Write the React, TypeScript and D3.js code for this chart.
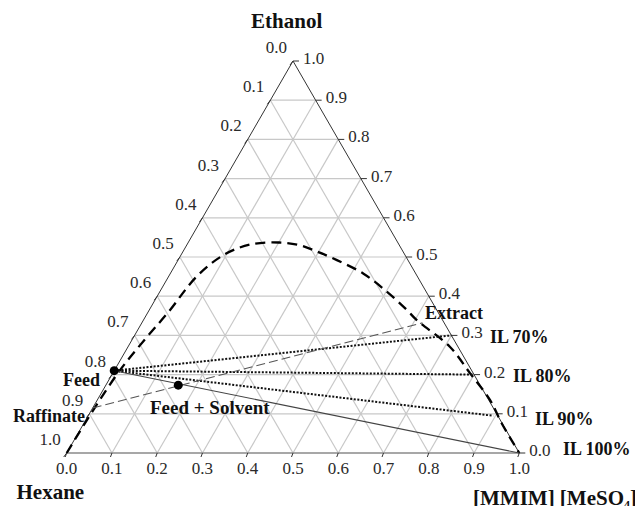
import React from "react";
import * as d3 from "d3";

// ternary coordinates: il = [MMIM][MeSO4] fraction, eth = ethanol fraction
const ticks = [0, 0.1, 0.2, 0.3, 0.4, 0.5, 0.6, 0.7, 0.8, 0.9, 1.0];
const gridLevels = [0.1, 0.2, 0.3, 0.4, 0.5, 0.6, 0.7, 0.8, 0.9];

const binodalIL = [0, 0.004, 0.012, 0.028, 0.045, 0.062, 0.094, 0.14, 0.2, 0.25, 0.296, 0.351, 0.426, 0.501, 0.569, 0.604, 0.711, 0.79, 0.868, 0.923, 1.0];
const binodalEth = [0, 0.11, 0.21, 0.29, 0.36, 0.45, 0.505, 0.532, 0.537, 0.53, 0.514, 0.492, 0.458, 0.412, 0.365, 0.339, 0.271, 0.203, 0.135, 0.076, 0];

const feed = { il: 0, eth: 0.21 };
const mixture = { il: 0.16, eth: 0.173 };
const raffinate = { il: 0, eth: 0.115 };
const extract = { il: 0.62, eth: 0.332 };
const pureIL = { il: 1.0, eth: 0 };

const solventNames = ["IL 70%", "IL 80%", "IL 90%"];
const solventIL = [0.7, 0.8, 0.895];
const solventEth = [0.3, 0.2, 0.095];

const FONT = "'Liberation Serif', 'Times New Roman', serif";

export default function App() {
  const xs = d3.scaleLinear().domain([0, 1]).range([66.7, 519.3]);
  const ys = d3.scaleLinear().domain([0, 1]).range([453, 61]);
  const px = (il: number, eth: number) => xs(il + eth / 2);
  const py = (eth: number) => ys(eth);
  const P = (p: { il: number; eth: number }) => [px(p.il, p.eth), py(p.eth)];

  const binodal = binodalIL.map((v, i) => [px(v, binodalEth[i]), py(binodalEth[i])] as [number, number]);
  const lineGen = d3.line().curve(d3.curveCatmullRom.alpha(0.5));

  const grid: JSX.Element[] = [];
  gridLevels.forEach((k, i) => {
    grid.push(<line key={"h" + i} x1={px(0, k)} y1={py(k)} x2={px(1 - k, k)} y2={py(k)} />);
    grid.push(<line key={"a" + i} x1={px(k, 0)} y1={py(0)} x2={px(k, 1 - k)} y2={py(1 - k)} />);
    grid.push(<line key={"b" + i} x1={px(1 - k, 0)} y1={py(0)} x2={px(0, 1 - k)} y2={py(1 - k)} />);
  });

  const fmt = d3.format(".1f");
  const [fx, fy] = P(feed);
  const [mx, my] = P(mixture);
  const [rx, ry] = P(raffinate);
  const [ex, ey] = P(extract);
  const [ix, iy] = P(pureIL);

  return (
    <svg width={635} height={506} style={{ position: "absolute", left: 0, top: 0, background: "#fff" }}>
      <g stroke="#c8c8c8" strokeWidth={1.2}>{grid}</g>
      {/* sides */}
      <line x1={px(0, 0)} y1={py(0)} x2={px(0, 1)} y2={py(1)} stroke="#333" strokeWidth={1} />
      <line x1={px(1, 0)} y1={py(0)} x2={px(0, 1)} y2={py(1)} stroke="#333" strokeWidth={1} />
      <line x1={px(0, 0)} y1={py(0)} x2={px(1, 0)} y2={py(0)} stroke="#8a8a8a" strokeWidth={1.5} />
      {/* ticks */}
      <g stroke="#333" strokeWidth={1}>
        {ticks.map((k, i) => (
          <line key={"lt" + i} x1={px(0, k)} y1={py(k)} x2={px(0, k) - 3} y2={py(k) + 4} />
        ))}
        {ticks.map((k, i) => (
          <line key={"rt" + i} x1={px(1 - k, k)} y1={py(k)} x2={px(1 - k, k) + 6} y2={py(k)} />
        ))}
        {ticks.map((k, i) => (
          <line key={"bt" + i} x1={px(k, 0)} y1={py(0)} x2={px(k, 0) - 1.5} y2={py(0) + 4} />
        ))}
      </g>
      <g fontFamily={FONT} fontSize={17} fill="#2a2a2a">
        {ticks.map((k, i) => (
          <text key={"ll" + i} x={px(0, k) - 6} y={py(k) - 12} textAnchor="end" dominantBaseline="middle">{fmt(1 - k)}</text>
        ))}
        {ticks.map((k, i) => (
          <text key={"rl" + i} x={px(1 - k, k) + 10} y={py(k) - 1} textAnchor="start" dominantBaseline="middle">{fmt(k)}</text>
        ))}
        {ticks.map((k, i) => (
          <text key={"bl" + i} x={px(k, 0)} y={py(0) + 17} textAnchor="middle" dominantBaseline="middle">{fmt(k)}</text>
        ))}
      </g>
      {/* binodal curve */}
      <path d={lineGen(binodal) || ""} fill="none" stroke="#000" strokeWidth={2.3} strokeDasharray="10,6" />
      {/* tie lines to solvents */}
      {solventIL.map((v, i) => (
        <line key={"tl" + i} x1={fx} y1={fy} x2={px(v, solventEth[i])} y2={py(solventEth[i])} stroke="#111" strokeWidth={2} strokeDasharray="2,1.6" />
      ))}
      {/* feed to pure IL */}
      <line x1={fx} y1={fy} x2={ix} y2={iy} stroke="#444" strokeWidth={1.1} />
      {/* raffinate - extract */}
      <line x1={rx} y1={ry} x2={ex} y2={ey} stroke="#555" strokeWidth={1.1} strokeDasharray="9,4" />
      <circle cx={fx} cy={fy} r={4.5} fill="#000" />
      <circle cx={mx} cy={my} r={4.5} fill="#000" />
      {/* labels */}
      <g fontFamily={FONT} fontWeight="bold" fontSize={18} fill="#111">
        <text x={63} y={386}>Feed</text>
        <text x={13} y={421.7}>Raffinate</text>
        <text x={150} y={414} fontSize={19}>Feed + Solvent</text>
        <text x={425} y={319.3}>Extract</text>
        <text x={490} y={342.7}>{solventNames[0]}</text>
        <text x={513} y={381.7}>{solventNames[1]}</text>
        <text x={535} y={425}>{solventNames[2]}</text>
        <text x={563} y={455}>IL 100%</text>
      </g>
      <g fontFamily={FONT} fontWeight="bold" fontSize={21} fill="#111">
        <text x={286.7} y={27.5} textAnchor="middle">Ethanol</text>
        <text x={16.5} y={499.3}>Hexane</text>
        <text x={473} y={505}>
          [MMIM] [MeSO<tspan fontSize={12} dy={4}>4</tspan><tspan dy={-4}>]</tspan>
        </text>
      </g>
    </svg>
  );
}
